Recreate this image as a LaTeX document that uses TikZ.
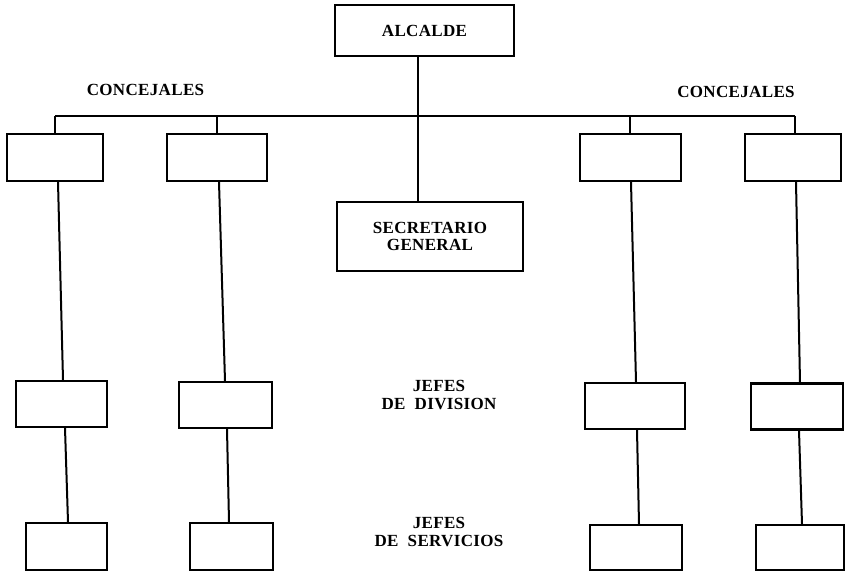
\documentclass[tikz,border=0pt]{standalone}
\usepackage{fontspec}
\setmainfont{Liberation Serif}[LetterSpace=2,WordSpace=2]
\begin{document}
\begin{tikzpicture}[x=1pt,y=-1pt,
  box/.style={draw, line width=2.2pt, inner sep=0pt, minimum height=47pt},
  lbl/.style={font=\bfseries\fontsize{17}{17.5}\selectfont, align=center, inner sep=0pt},
  conn/.style={line width=2pt}]
\useasboundingbox (0,0) rectangle (846,573);
% top
\node[box, minimum width=179pt, minimum height=51pt, lbl] (alc) at (424.5,30.5) {ALCALDE};
\node[box, minimum width=186pt, minimum height=69pt, lbl] (sec) at (430,236.5) {SECRETARIO\\GENERAL};
% row 1
\node[box, minimum width=96pt] (a1) at (55,157.5) {};
\node[box, minimum width=100pt] (b1) at (217,157.5) {};
\node[box, minimum width=101pt] (c1) at (630.5,157.5) {};
\node[box, minimum width=96pt] (d1) at (793,157.5) {};
% row 2
\node[box, minimum width=91pt, minimum height=46pt] (a2) at (61.5,404) {};
\node[box, minimum width=93pt, minimum height=46pt] (b2) at (225.5,405) {};
\node[box, minimum width=100pt, minimum height=46pt] (c2) at (635,406) {};
\node[box, minimum width=92pt, minimum height=46pt] (d2) at (797,406.5) {};
% row 3
\node[box, minimum width=81pt] (a3) at (66.5,546.5) {};
\node[box, minimum width=83pt] (b3) at (231.5,546.5) {};
\node[box, minimum width=92pt, minimum height=45pt] (c3) at (636,547.5) {};
\node[box, minimum width=88pt, minimum height=45pt] (d3) at (800,547.5) {};
% labels
\node[lbl] (conl) at (145.5,90) {CONCEJALES};
\node[lbl] (conr) at (736,92) {CONCEJALES};
\node[lbl] (jdiv) at (439,395) {JEFES\\DE DIVISION};
\node[lbl] (jser) at (439,532) {JEFES\\DE SERVICIOS};
% bar
\coordinate (bl) at (55,116);
\coordinate (br) at (795,116);
\draw[conn] (bl) -- (br);
\draw[conn] ([xshift=-6.5pt]alc.south) -- ([xshift=-12pt]sec.north);
\draw[conn] (bl) -- (a1.north);
\draw[conn] (b1.north |- bl) -- (b1.north);
\draw[conn] ([xshift=-0.5pt]c1.north |- bl) -- ([xshift=-0.5pt]c1.north);
\draw[conn] (br) -- ([xshift=2pt]d1.north);
% row1 -> row2
\draw[conn] ([xshift=3pt]a1.south) -- ([xshift=1.5pt]a2.north);
\draw[conn] ([xshift=2pt]b1.south) -- ([xshift=-0.5pt]b2.north);
\draw[conn] ([xshift=0.5pt]c1.south) -- ([xshift=1pt]c2.north);
\draw[conn] ([xshift=3pt]d1.south) -- ([xshift=3pt]d2.north);
% row2 -> row3
\draw[conn] ([xshift=3.5pt]a2.south) -- ([xshift=1.5pt]a3.north);
\draw[conn] ([xshift=1.5pt]b2.south) -- ([xshift=-2.5pt]b3.north);
\draw[conn] ([xshift=2pt]c2.south) -- ([xshift=3pt]c3.north);
\draw[conn] ([xshift=2pt]d2.south) -- ([xshift=2pt]d3.north);
\end{tikzpicture}
\end{document}
